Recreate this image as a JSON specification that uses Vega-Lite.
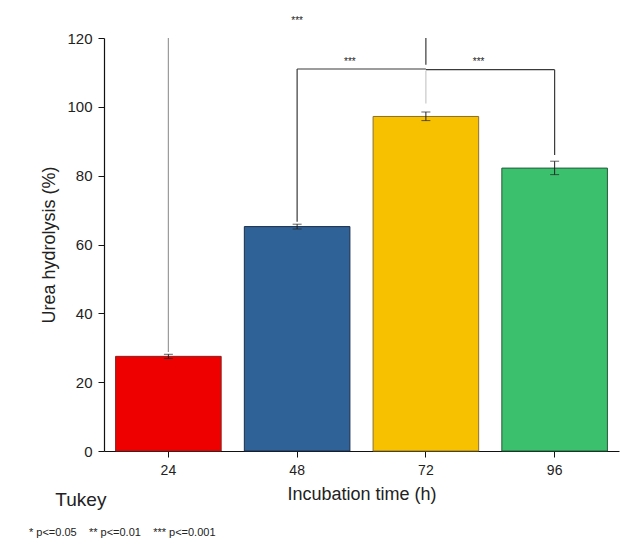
{
  "$schema": "https://vega.github.io/schema/vega-lite/v6.json",
  "width": 515,
  "height": 413,
  "autosize": "none",
  "padding": {"left": 104, "top": 38, "right": 17, "bottom": 97},
  "background": "white",
  "config": {
    "view": {"stroke": null},
    "font": "Liberation Sans"
  },
  "title": {
    "text": "\u200b\u00a0\u00a0\u00a0\u00a0\u00a0Tukey",
    "subtitle": "* p<=0.05 \u00a0\u00a0 ** p<=0.01 \u00a0\u00a0 *** p<=0.001",
    "orient": "bottom",
    "anchor": "start",
    "frame": "bounds",
    "fontSize": 19,
    "fontWeight": "normal",
    "color": "#222",
    "subtitleFontSize": 11,
    "subtitleColor": "#222",
    "subtitlePadding": 17,
    "offset": -12,
    "dx": -12
  },
  "datasets": {
    "bars": [
      {"time": "24", "value": 27.5, "low": 26.9, "high": 28.1},
      {"time": "48", "value": 65.2, "low": 64.5, "high": 65.9},
      {"time": "72", "value": 97.2, "low": 96.0, "high": 98.5},
      {"time": "96", "value": 82.2, "low": 80.3, "high": 84.2}
    ],
    "lines": [
      {"x": "24", "x2": "24", "y": 28.8, "y2": 120, "kind": "light"},
      {"x": "72", "x2": "72", "y": 112.2, "y2": 120, "kind": "dark"},
      {"x": "72", "x2": "72", "y": 101, "y2": 110.5, "kind": "pale"},
      {"x": "48", "x2": "72", "y": 111, "y2": 111, "kind": "dark"},
      {"x": "72", "x2": "96", "y": 110.8, "y2": 110.8, "kind": "dark"},
      {"x": "48", "x2": "48", "y": 66.6, "y2": 111, "kind": "dark"},
      {"x": "96", "x2": "96", "y": 86, "y2": 110.8, "kind": "dark"}
    ],
    "starsTop": [
      {"x": "48", "y": 123.5, "label": "***"}
    ],
    "starsMid": [
      {"x": "48", "y": 111.7, "label": "***"},
      {"x": "72", "y": 111.5, "label": "***"}
    ]
  },
  "layer": [
    {
      "data": {"name": "bars"},
      "mark": {"type": "bar", "strokeWidth": 1},
      "encoding": {
        "x": {
          "field": "time",
          "type": "nominal",
          "sort": ["24", "48", "72", "96"],
          "scale": {"domain": ["24", "48", "72", "96"], "paddingInner": 0.18, "paddingOuter": 0.09},
          "axis": {
            "title": "Incubation time (h)",
            "titleFontSize": 18,
            "titleFontWeight": "normal",
            "titleColor": "#222",
            "titlePadding": 8,
            "labelFontSize": 14,
            "labelColor": "#222",
            "labelAngle": 0,
            "labelPadding": 6,
            "tickSize": 6,
            "tickColor": "#111",
            "domainColor": "#111",
            "domainWidth": 1.2,
            "grid": false
          }
        },
        "y": {
          "field": "value",
          "type": "quantitative",
          "scale": {"domain": [0, 120], "nice": false},
          "axis": {
            "title": "Urea hydrolysis (%)",
            "titleFontSize": 18,
            "titleFontWeight": "normal",
            "titleColor": "#222",
            "titlePadding": 8,
            "values": [0, 10, 20, 30, 40, 50, 60, 70, 80, 90, 100, 110, 120],
            "labelExpr": "datum.value % 20 === 0 ? datum.label : ''",
            "labelFontSize": 15,
            "labelColor": "#222",
            "labelPadding": 6,
            "tickSize": 6,
            "tickDash": {"condition": {"test": "datum.value % 20 !== 0", "value": [3, 20]}, "value": []},
            "tickColor": "#111",
            "domainColor": "#111",
            "domainWidth": 1.2,
            "grid": false
          }
        },
        "color": {
          "field": "time",
          "type": "nominal",
          "scale": {"domain": ["24", "48", "72", "96"], "range": ["#EF0000", "#2F6398", "#F8C100", "#3BC16E"]},
          "legend": null
        },
        "stroke": {
          "field": "time",
          "type": "nominal",
          "scale": {"domain": ["24", "48", "72", "96"], "range": ["#8a2020", "#1c2c48", "#8a7030", "#245a38"]},
          "legend": null
        }
      }
    },
    {
      "data": {"name": "bars"},
      "mark": {"type": "rule", "color": "#222", "strokeWidth": 1},
      "encoding": {
        "x": {"field": "time", "type": "nominal"},
        "y": {"field": "low", "type": "quantitative"},
        "y2": {"field": "high"}
      }
    },
    {
      "data": {"name": "bars"},
      "mark": {"type": "tick", "color": "#222", "thickness": 1, "size": 9},
      "encoding": {
        "x": {"field": "time", "type": "nominal"},
        "y": {"field": "low", "type": "quantitative"}
      }
    },
    {
      "data": {"name": "bars"},
      "mark": {"type": "tick", "color": "#222", "thickness": 1, "size": 9},
      "encoding": {
        "x": {"field": "time", "type": "nominal"},
        "y": {"field": "high", "type": "quantitative"}
      }
    },
    {
      "data": {"name": "lines"},
      "mark": {"type": "rule", "strokeWidth": 1.2},
      "encoding": {
        "x": {"field": "x", "type": "nominal"},
        "x2": {"field": "x2"},
        "y": {"field": "y", "type": "quantitative"},
        "y2": {"field": "y2"},
        "color": {
          "field": "kind",
          "type": "nominal",
          "scale": {"domain": ["dark", "light", "pale"], "range": ["#3a3a3a", "#9a9a9a", "#c8c8c8"]},
          "legend": null
        }
      }
    },
    {
      "data": {"name": "starsTop"},
      "mark": {"type": "text", "fontSize": 10, "baseline": "bottom", "color": "#222"},
      "encoding": {
        "x": {"field": "x", "type": "nominal", "bandPosition": 0.5},
        "y": {"field": "y", "type": "quantitative"},
        "text": {"field": "label"}
      }
    },
    {
      "data": {"name": "starsMid"},
      "mark": {"type": "text", "fontSize": 10, "baseline": "bottom", "color": "#222"},
      "encoding": {
        "x": {"field": "x", "type": "nominal", "bandPosition": 1},
        "y": {"field": "y", "type": "quantitative"},
        "text": {"field": "label"}
      }
    }
  ],
  "resolve": {"scale": {"color": "independent"}}
}
